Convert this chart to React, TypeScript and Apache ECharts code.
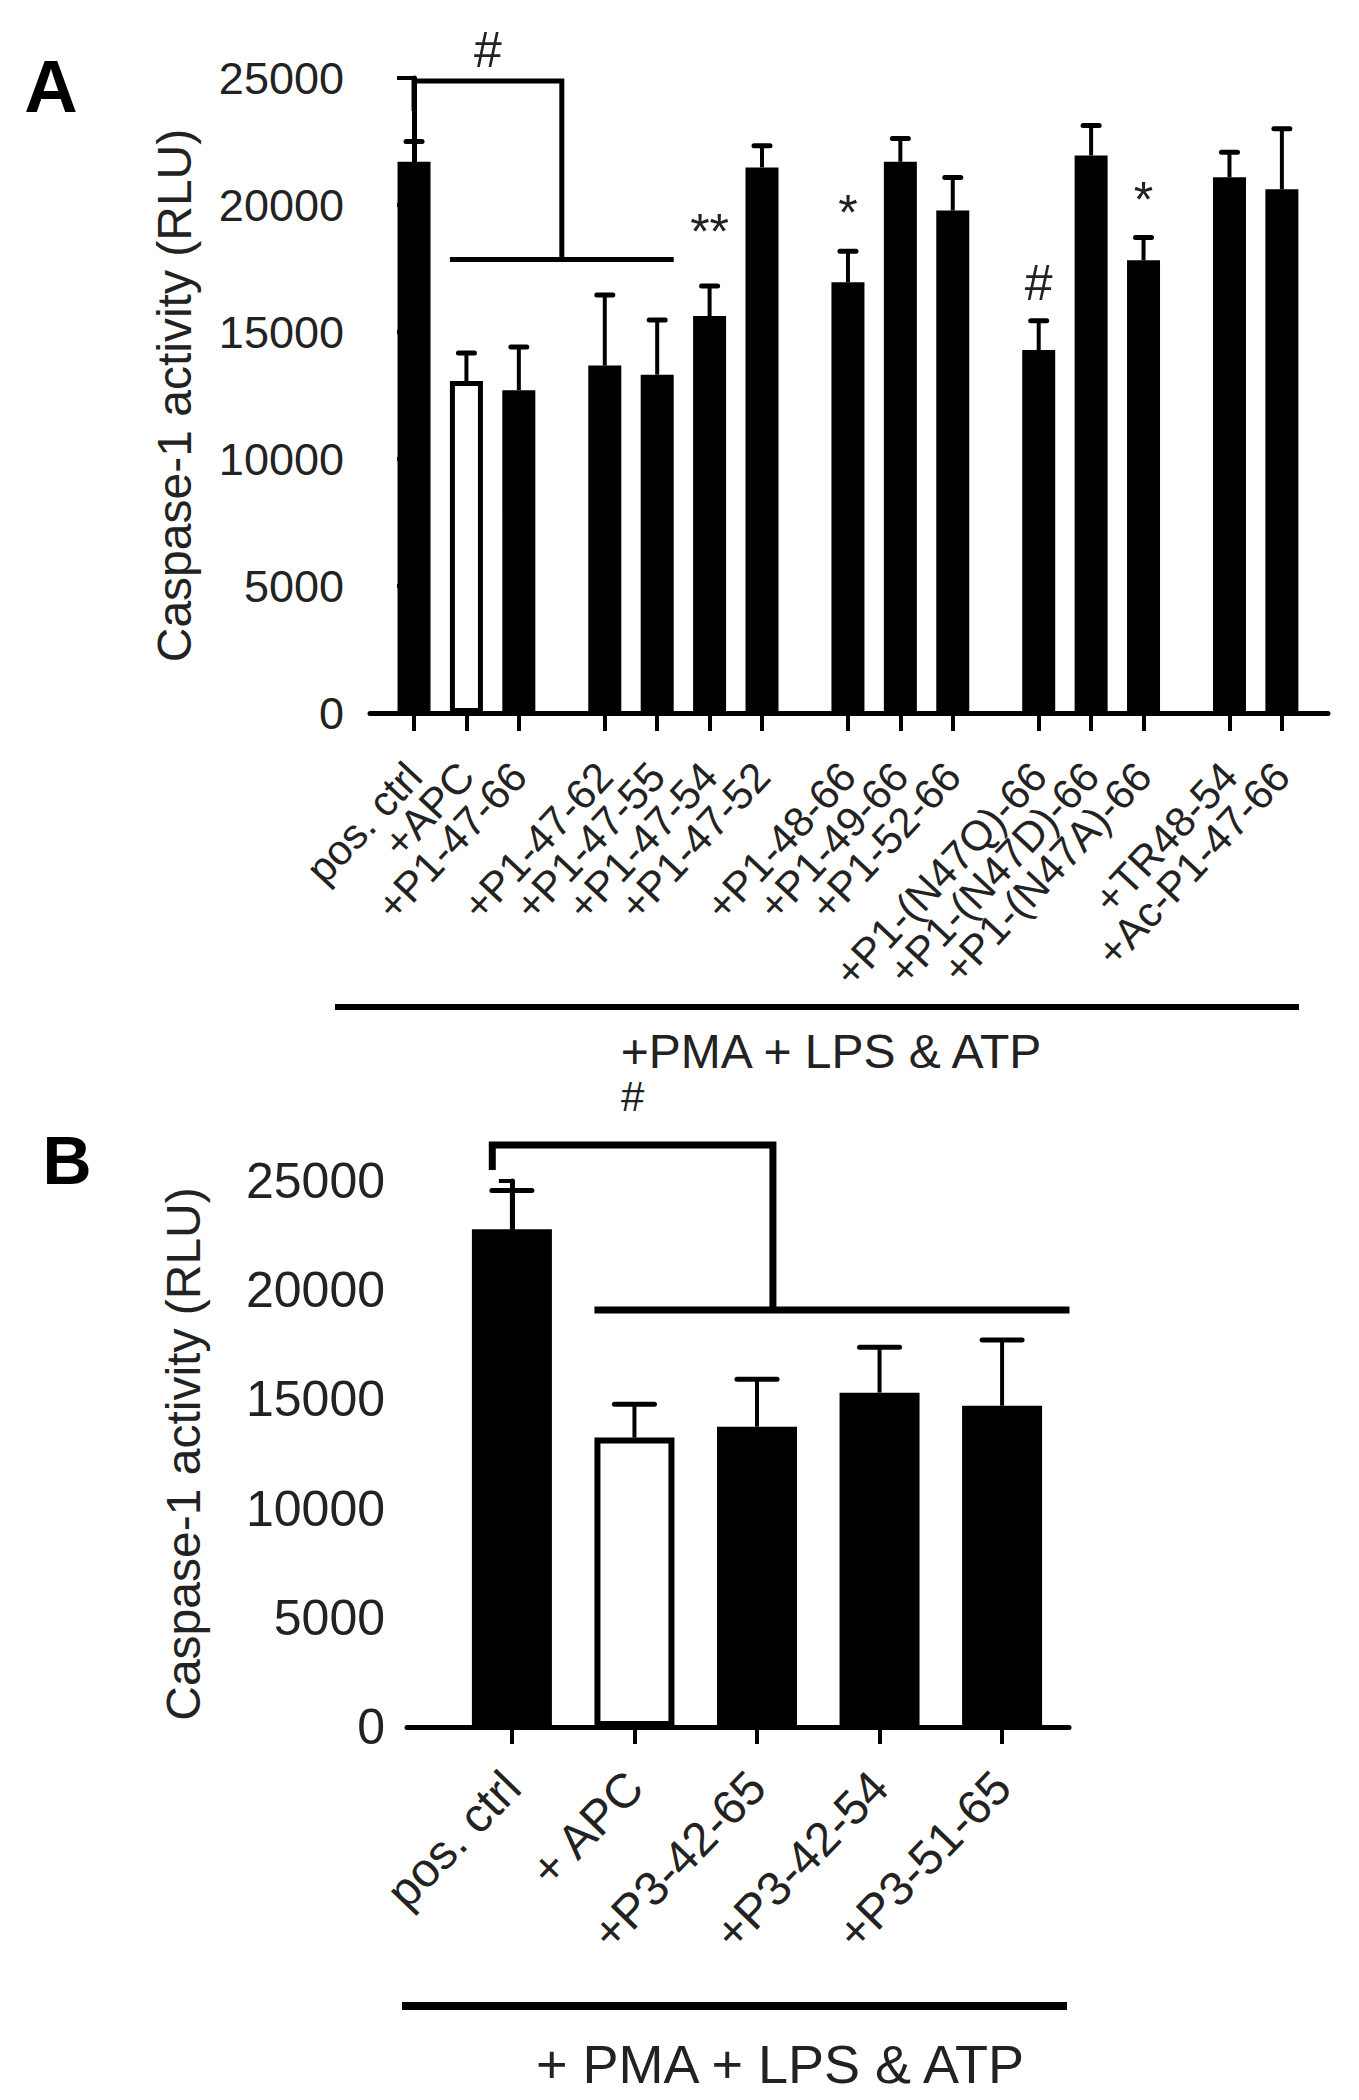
import React, { useEffect, useRef } from 'react';
import * as echarts from 'echarts';

// ---------------- DATA ----------------
const categoriesA = [
  'pos. ctrl', '+APC', '+P1-47-66',
  '+P1-47-62', '+P1-47-55', '+P1-47-54', '+P1-47-52',
  '+P1-48-66', '+P1-49-66', '+P1-52-66',
  '+P1-(N47Q)-66', '+P1-(N47D)-66', '+P1-(N47A)-66',
  '+TR48-54', '+Ac-P1-47-66',
];
const groupsA = [0, 0, 0, 1, 1, 1, 1, 2, 2, 2, 3, 3, 3, 4, 4];
const meansA = [21700, 13070, 12710, 13680, 13320, 15630, 21480, 16960, 21700, 19780, 14290, 21950, 17820, 21090, 20620];
const semA = [800, 1100, 1700, 2780, 2150, 1180, 850, 1220, 920, 1300, 1150, 1180, 900, 990, 2380];
const sigA = ['', '', '', '', '', '**', '', '*', '', '', '#', '', '*', '', ''];

const categoriesB = ['pos. ctrl', '+ APC', '+P3-42-65', '+P3-42-54', '+P3-51-65'];
const meansB = [22790, 13250, 13750, 15310, 14710];
const semB = [1770, 1530, 2170, 2080, 3010];

const yTicks = [0, 5000, 10000, 15000, 20000, 25000];
const yTitle = 'Caspase-1 activity (RLU)';
const treatmentText = '+PMA + LPS & ATP';
const treatmentTextB = '+ PMA + LPS & ATP';

// ---------------- LAYOUT ----------------
const FONT = '"Liberation Sans", Arial, Helvetica, sans-serif';
const TXT = '#222';
const GAP_EXTRA = 0.64;
const posA = categoriesA.map((_, i) => i + groupsA[i] * GAP_EXTRA);
const posB = categoriesB.map((_, i) => i);
const posAEven = posA.filter((_, i) => i % 2 === 0);
const posAOdd = posA.filter((_, i) => i % 2 === 1);
const BAR_A = 33;
const BAR_B = 80;
const A_MIN = -0.84;
const A_MAX = posA[posA.length - 1] + 0.88;

const isOpen = (label: string) => label.indexOf('APC') >= 0;

function labelFor(positions: number[], labels: string[]) {
  return (v: number) => {
    let best = 0;
    let bd = Infinity;
    positions.forEach((p, i) => {
      const d = Math.abs(p - v);
      if (d < bd) { bd = d; best = i; }
    });
    return bd < 0.2 ? labels[best] : '';
  };
}

function errRender(capHalf: number, lw: number) {
  return (params: any, api: any) => {
    const x = api.value(0);
    const v = api.value(1);
    const e = api.value(2);
    const base = api.coord([x, v]);
    const top = api.coord([x, v + e]);
    return {
      type: 'group',
      children: [
        { type: 'line', shape: { x1: base[0], y1: base[1], x2: top[0], y2: top[1] }, style: { stroke: '#000', lineWidth: lw } },
        { type: 'line', shape: { x1: top[0] - capHalf, y1: top[1], x2: top[0] + capHalf, y2: top[1] }, style: { stroke: '#000', lineWidth: lw + 1, lineCap: 'round' } },
      ],
    };
  };
}

function yAxisCfg(gridIndex: number, fontSize: number, nameSize: number, nameGap: number, margin: number, tickLen: number) {
  return {
    type: 'value',
    gridIndex,
    min: yTicks[0],
    max: yTicks[yTicks.length - 1],
    interval: yTicks[1] - yTicks[0],
    name: yTitle,
    nameLocation: 'middle',
    nameGap,
    nameRotate: 90,
    nameTextStyle: { fontSize: nameSize, color: TXT, fontFamily: FONT },
    axisLine: { show: true, lineStyle: { color: '#000', width: 5 } },
    axisTick: { show: true, length: tickLen, lineStyle: { color: '#000', width: 4 } },
    axisLabel: { fontSize, color: TXT, fontFamily: FONT, margin, formatter: (v: number) => String(v) },
    splitLine: { show: false },
  };
}

const labelA = {
  show: true, rotate: 47, fontSize: 42, color: TXT, fontFamily: FONT, margin: 56,
  showMinLabel: true, showMaxLabel: true, hideOverlap: false,
  formatter: labelFor(posA, categoriesA),
};

export default function App() {
  const ref = useRef<HTMLDivElement>(null);
  useEffect(() => {
    if (!ref.current) return;
    const chart = echarts.init(ref.current, undefined, { renderer: 'svg' });

    const BR_A = { low: 23700, top: 24880, line: 17850 };
    const BR_B = { left: -0.16, right: 2.13, low: 25500, top: 26650, line: 19090, lineEnd: 4.55 };

    const option: any = {
      animation: false,
      backgroundColor: '#fff',
      grid: [
        { left: 370, top: 78, width: 958, height: 635 },
        { left: 407, top: 1181, width: 662, height: 546 },
      ],
      xAxis: [
        {
          type: 'value',
          gridIndex: 0,
          min: A_MIN,
          max: A_MAX,
          axisLine: { show: true, onZero: false, lineStyle: { color: '#000', width: 5 } },
          axisTick: { show: true, customValues: posA, length: 18, lineStyle: { color: '#000', width: 4 } },
          axisLabel: { ...labelA, customValues: posAEven },
          splitLine: { show: false },
        },
        {
          type: 'value',
          gridIndex: 1,
          min: -0.856,
          max: 4.546,
          axisLine: { show: true, onZero: false, lineStyle: { color: '#000', width: 5 } },
          axisTick: { show: true, customValues: posB, length: 17, lineStyle: { color: '#000', width: 4 } },
          axisLabel: {
            show: true, customValues: posB, rotate: 46, fontSize: 48, color: TXT, fontFamily: FONT, margin: 52,
            showMinLabel: true, showMaxLabel: true, hideOverlap: false,
            formatter: labelFor(posB, categoriesB),
          },
          splitLine: { show: false },
        },
        {
          type: 'value',
          gridIndex: 0,
          position: 'bottom',
          min: A_MIN,
          max: A_MAX,
          axisLine: { show: false, onZero: false },
          axisTick: { show: false },
          axisLabel: { ...labelA, customValues: posAOdd },
          splitLine: { show: false },
        },
      ],
      yAxis: [
        yAxisCfg(0, 45, 48, 172, 26, 17),
        yAxisCfg(1, 50, 48, 200, 22, 13),
      ],
      series: [
        {
          type: 'bar',
          xAxisIndex: 0,
          yAxisIndex: 0,
          barWidth: BAR_A,
          data: meansA.map((v, i) => ({
            value: [posA[i], v],
            itemStyle: isOpen(categoriesA[i])
              ? { color: '#fff', borderColor: '#000', borderWidth: 5 }
              : { color: '#000' },
          })),
        },
        {
          type: 'custom',
          xAxisIndex: 0,
          yAxisIndex: 0,
          z: 3,
          renderItem: errRender(8, 4),
          data: meansA.map((v, i) => [posA[i], v, semA[i]]),
        },
        {
          type: 'custom',
          xAxisIndex: 0,
          yAxisIndex: 0,
          z: 4,
          renderItem: (params: any, api: any) => {
            const i = params.dataIndex;
            const txt = sigA[i];
            const top = api.coord([api.value(0), api.value(1) + api.value(2)]);
            return {
              type: 'text',
              x: top[0],
              y: top[1] - (txt.length > 1 ? 54 : 38),
              style: { text: txt, fontSize: 50, fill: TXT, fontFamily: FONT, align: 'center', verticalAlign: 'middle' },
            };
          },
          data: meansA.map((v, i) => [posA[i], v, semA[i]]),
        },
        {
          type: 'custom',
          xAxisIndex: 0,
          yAxisIndex: 0,
          z: 4,
          clip: false,
          renderItem: (params: any, api: any) => {
            const pLow = api.coord([posA[0], BR_A.low]);
            const pTop = api.coord([posA[0], BR_A.top]);
            const l1 = api.coord([posA[1], BR_A.line])[0] - BAR_A / 2;
            const l2 = api.coord([posA[4], BR_A.line])[0] + BAR_A / 2;
            const ly = api.coord([posA[1], BR_A.line])[1];
            const xm = (l1 + l2) / 2;
            return {
              type: 'group',
              children: [
                { type: 'polyline', shape: { points: [[pLow[0], pLow[1]], [pTop[0], pTop[1]], [xm, pTop[1]], [xm, ly]] }, style: { stroke: '#000', lineWidth: 5, fill: 'none' } },
                { type: 'line', shape: { x1: l1, y1: ly, x2: l2, y2: ly }, style: { stroke: '#000', lineWidth: 5 } },
                { type: 'text', x: (pTop[0] + xm) / 2, y: pTop[1] - 31, style: { text: '#', fontSize: 50, fill: TXT, fontFamily: FONT, align: 'center', verticalAlign: 'middle' } },
              ],
            };
          },
          data: [[0, 0]],
        },
        {
          type: 'bar',
          xAxisIndex: 1,
          yAxisIndex: 1,
          barWidth: BAR_B,
          data: meansB.map((v, i) => ({
            value: [posB[i], v],
            itemStyle: isOpen(categoriesB[i])
              ? { color: '#fff', borderColor: '#000', borderWidth: 6 }
              : { color: '#000' },
          })),
        },
        {
          type: 'custom',
          xAxisIndex: 1,
          yAxisIndex: 1,
          z: 3,
          renderItem: errRender(20, 4),
          data: meansB.map((v, i) => [posB[i], v, semB[i]]),
        },
        {
          type: 'custom',
          xAxisIndex: 1,
          yAxisIndex: 1,
          z: 4,
          clip: false,
          renderItem: (params: any, api: any) => {
            const pLow = api.coord([posB[0] + BR_B.left, BR_B.low]);
            const pTop = api.coord([posB[0] + BR_B.left, BR_B.top]);
            const pRight = api.coord([BR_B.right, BR_B.top]);
            const l1 = api.coord([posB[1], BR_B.line])[0] - BAR_B / 2;
            const l2 = api.coord([BR_B.lineEnd, BR_B.line])[0];
            const ly = api.coord([posB[1], BR_B.line])[1];
            return {
              type: 'group',
              children: [
                { type: 'polyline', shape: { points: [[pLow[0], pLow[1]], [pTop[0], pTop[1]], [pRight[0], pRight[1]], [pRight[0], ly]] }, style: { stroke: '#000', lineWidth: 7, fill: 'none' } },
                { type: 'line', shape: { x1: l1, y1: ly, x2: l2, y2: ly }, style: { stroke: '#000', lineWidth: 7 } },
                { type: 'text', x: (pTop[0] + pRight[0]) / 2, y: pTop[1] - 48, style: { text: '#', fontSize: 42, fill: TXT, fontFamily: FONT, align: 'center', verticalAlign: 'middle' } },
              ],
            };
          },
          data: [[0, 0]],
        },
      ],
      graphic: [
        { type: 'text', x: 51, y: 86, style: { text: 'A', fontSize: 74, fontWeight: 'bold', fill: '#000', fontFamily: FONT, align: 'center', verticalAlign: 'middle' } },
        { type: 'text', x: 67, y: 1160, style: { text: 'B', fontSize: 68, fontWeight: 'bold', fill: '#000', fontFamily: FONT, align: 'center', verticalAlign: 'middle' } },
        { type: 'line', shape: { x1: 335, y1: 1007, x2: 1299, y2: 1007 }, style: { stroke: '#000', lineWidth: 6 } },
        { type: 'text', x: 831, y: 1051, style: { text: treatmentText, fontSize: 48, fill: TXT, fontFamily: FONT, align: 'center', verticalAlign: 'middle' } },
        { type: 'line', shape: { x1: 402, y1: 2006, x2: 1067, y2: 2006 }, style: { stroke: '#000', lineWidth: 8 } },
        { type: 'text', x: 780, y: 2064, style: { text: treatmentTextB, fontSize: 54, fill: TXT, fontFamily: FONT, align: 'center', verticalAlign: 'middle' } },
      ],
    };
    chart.setOption(option);
    return () => chart.dispose();
  }, []);

  return (
    <div
      ref={ref}
      style={{ position: 'absolute', left: 0, top: 0, width: 1359, height: 2100, background: '#fff' }}
    />
  );
}
